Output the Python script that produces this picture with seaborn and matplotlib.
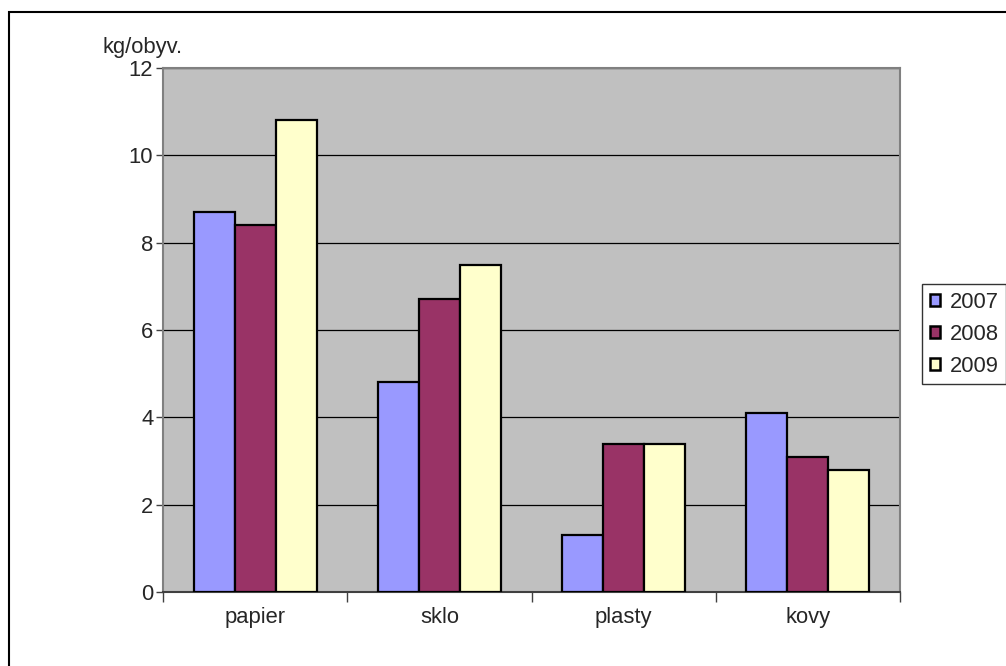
import matplotlib
matplotlib.use("Agg")
import matplotlib.pyplot as plt
from matplotlib.patches import Patch, Rectangle
import seaborn as sns
import pandas as pd

categories = ["papier", "sklo", "plasty", "kovy"]
years = ["2007", "2008", "2009"]
values_2007 = [8.7, 4.8, 1.3, 4.1]
values_2008 = [8.4, 6.7, 3.4, 3.1]
values_2009 = [10.8, 7.5, 3.4, 2.8]
colors = ["#9999FF", "#993366", "#FFFFCC"]

df = pd.DataFrame({
    "kategoria": categories * 3,
    "rok": [y for y in years for _ in categories],
    "hodnota": values_2007 + values_2008 + values_2009,
})

sns.set_theme(style="white")
plt.rcParams["font.family"] = ["Liberation Sans", "DejaVu Sans"]
FS = 15.8

fig = plt.figure(figsize=(10.06, 6.66), dpi=100)
ax = fig.add_axes([163 / 1006, 74 / 666, 737 / 1006, 524 / 666])
ax.set_facecolor("#C0C0C0")

sns.barplot(data=df, x="kategoria", y="hodnota", hue="rok", order=categories,
            hue_order=years, palette=colors, width=0.667, edgecolor="black",
            linewidth=1.6, saturation=1, ax=ax, legend=False, zorder=3)

ax.set_xlim(-0.5, 3.5)
ax.set_ylim(0, 12)
ax.set_yticks(range(0, 13, 2))
ax.yaxis.grid(True, color="black", linewidth=0.9, zorder=0)
ax.set_axisbelow(True)
ax.set_xlabel("")
ax.set_ylabel("")

# category ticks sit between groups, labels centred under groups
ax.set_xticks([-0.5, 0.5, 1.5, 2.5, 3.5])
ax.set_xticklabels([])
ax.set_xticks(range(len(categories)), minor=True)
ax.set_xticklabels(categories, minor=True, fontsize=FS)
ax.tick_params(axis="x", which="major", direction="out", length=7, width=1,
               color="#404040", bottom=True)
ax.tick_params(axis="x", which="minor", length=0, pad=11)
ax.tick_params(axis="y", direction="out", length=5, width=1, color="#404040",
               left=True, labelsize=FS, pad=2)

for side, sp in ax.spines.items():
    sp.set_visible(True)
    sp.set_linewidth(1.5)
    sp.set_color("#808080")
ax.spines["bottom"].set_color("#404040")

fig.text(143 / 1006, 1 - 48 / 666, "kg/obyv.", ha="center", va="center",
         fontsize=FS)

handles = [Patch(facecolor=c, edgecolor="black", linewidth=1.8, label=y)
           for c, y in zip(colors, years)]
leg = fig.legend(handles=handles, loc="upper left",
                 bbox_to_anchor=(922 / 1006, 1 - 284 / 666), frameon=True,
                 fancybox=False, fontsize=FS, handlelength=0.45,
                 handleheight=0.45, handletextpad=0.45, labelspacing=0.5,
                 borderpad=0.35, borderaxespad=0)
leg.get_frame().set_edgecolor("black")
leg.get_frame().set_linewidth(1)

# outer chart border
fig.patches.append(Rectangle((9 / 1006, -0.1), 1.2, 1 - 12 / 666 + 0.1,
                             transform=fig.transFigure, fill=False,
                             edgecolor="black", linewidth=1.5))

fig.savefig("out.png", dpi=100)
